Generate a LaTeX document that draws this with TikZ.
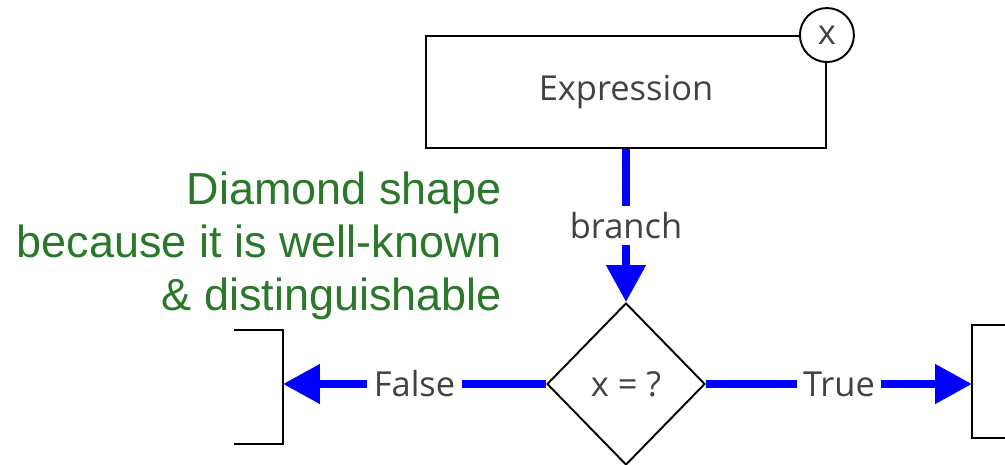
\documentclass[tikz,border=0pt]{standalone}
\usepackage{fontspec}
\setmainfont{Open Sans}
\newfontfamily\notefont{Liberation Sans}
\usepackage{xcolor}
\usetikzlibrary{shapes.geometric, arrows.meta}
\definecolor{notegreen}{RGB}{42,120,42}
\definecolor{labelgray}{RGB}{66,66,66}

\begin{document}
\begin{tikzpicture}[x=0.02cm, y=-0.02cm,
    block/.style={draw, line width=1.1pt, minimum width=8cm, minimum height=2.24cm, font=\fontsize{19.6}{24}\selectfont, text=labelgray},
    badge/.style={draw, circle, fill=white, line width=1.1pt, minimum size=1.08cm, inner sep=0pt, font=\fontsize{19.6}{24}\selectfont, text=labelgray},
    test/.style={draw, diamond, line width=1.1pt, minimum width=3.16cm, minimum height=3.24cm, inner sep=0pt, font=\fontsize{19.6}{24}\selectfont, text=labelgray},
    flow/.style={draw=blue, line width=4.5pt, -{Triangle[length=0.74cm, width=0.76cm]}},
    edgelbl/.style={fill=white, inner sep=3.7pt, font=\fontsize{19.6}{24}\selectfont, text=labelgray},
    stub/.style={line width=1.1pt},
    note/.style={align=right, text=notegreen, font=\notefont\fontsize{25.6}{30.2}\selectfont},
]
\useasboundingbox (0,0) rectangle (1005,465);

% ---- Expression + variable ----
\node[block] (expr) at (626,92) {Expression};
\node[badge] (var) at (expr.north east) {x};

% ---- Branch test ----
\node[test] (cond) at (626,384) {x = ?};

% ---- Targets (partly outside) ----
\draw[stub] (234,330) -- (283,330) -- (283,444) -- (234,444);
\coordinate (falsein) at (283,384);
\draw[stub] (1010,325) -- (972,325) -- (972,438) -- (1010,438);
\coordinate (truein) at (972,384);

% ---- Flow ----
\draw[flow] (expr.south) -- node[edgelbl] {branch} (cond.north);
\draw[flow] (cond.west) -- node[edgelbl] {False} (falsein);
\draw[flow] (cond.east) -- node[edgelbl] {True} (truein);

% ---- Note ----
\node[note, anchor=east] (why) at (508,246) {Diamond shape\\because it is well-known\\\& distinguishable};

\end{tikzpicture}
\end{document}
